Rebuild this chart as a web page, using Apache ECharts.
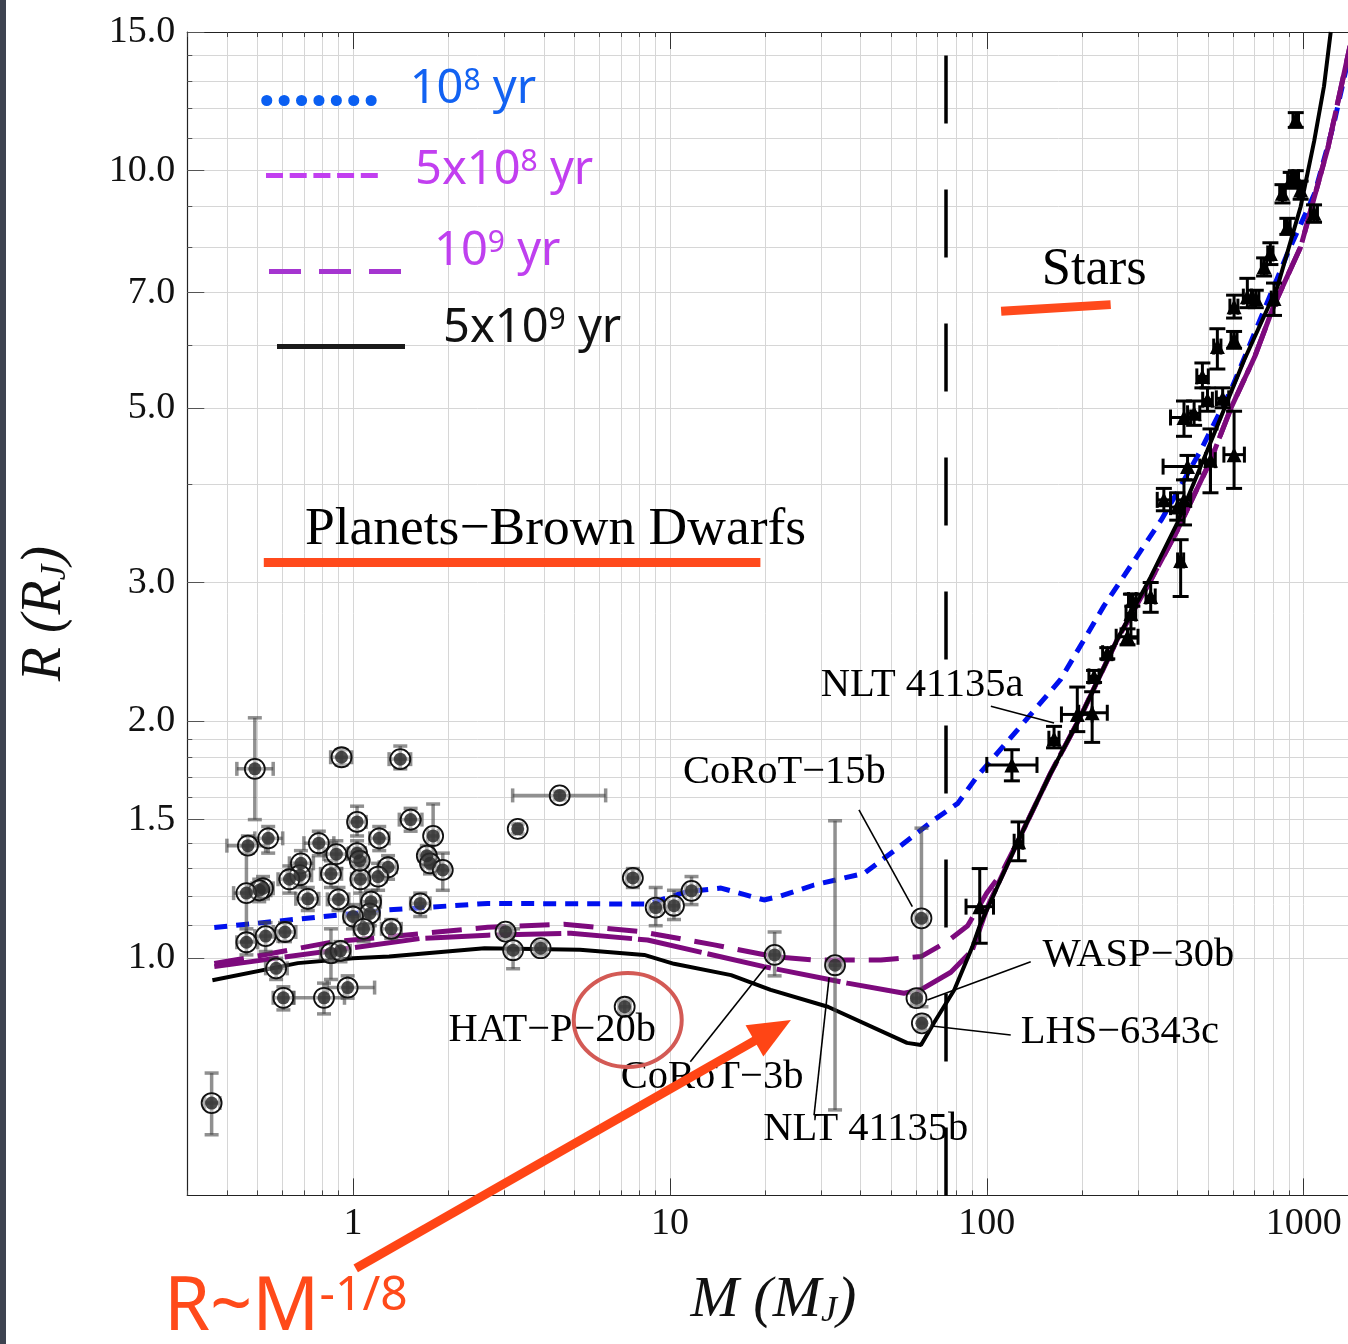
<!DOCTYPE html>
<html>
<head>
<meta charset="utf-8">
<script src="https://cdn.jsdelivr.net/npm/echarts@6/dist/echarts.min.js"></script>
<style>
html,body{margin:0;padding:0;background:#fff;}
#chart{width:1348px;height:1344px;}
</style>
</head>
<body>
<div id="chart"></div>
<script>
// ---------------- data ----------------
const X_MIN = 0.3, X_MAX = 1500, Y_MIN = 0.5, Y_MAX = 15;
const xMajorTicks = [1, 10, 100, 1000];
const xMinorTicks = [0.3,0.4,0.5,0.6,0.7,0.8,0.9,1,2,3,4,5,6,7,8,9,10,20,30,40,50,60,70,80,90,100,200,300,400,500,600,700,800,900,1000];
const yMajorTicks = [1.0, 1.5, 2.0, 3.0, 5.0, 7.0, 10.0, 15.0];
const yMinorTicks = [1.0,1.1,1.2,1.3,1.4,1.5,1.6,1.7,1.8,1.9,2.0,3,4,5,6,7,8,9,10,11,12,13,14,15];

// isochrones [M (MJ), R (RJ)]
const iso1e8 = [[0.365,1.094],[0.79,1.129],[1.29,1.152],[2.66,1.174],[8.5,1.172],[11.3,1.215],[14.5,1.228],[19.8,1.186],[22.4,1.2],[28.5,1.239],[41,1.282],[52.3,1.38],[68,1.498],[81,1.573],[93,1.70],[125,1.95],[171,2.26],[234,2.80],[355,3.60],[408,3.97],[474,4.42],[590,5.27],[889,7.85],[1083,9.36],[1247,11.5],[1380,13.8]];
const iso5e8 = [[0.365,0.985],[0.489,1.005],[0.874,1.05],[1.29,1.065],[2.66,1.095],[4.63,1.105],[8.1,1.081],[13.8,1.04],[21.3,1.005],[28.5,0.995],[46.3,0.995],[62,1.005],[75,1.05],[87,1.10],[100,1.21],[111,1.28],[126,1.414],[159,1.718],[198,2.03],[258,2.54],[329,3.02],[400,3.5],[509,4.29],[590,5.0],[700,5.8],[803,6.72],[978,8.0],[1193,10.7],[1400,14.4]];
const iso1e9 = [[0.365,0.976],[0.895,1.025],[1.64,1.06],[2.66,1.07],[4.87,1.076],[8.5,1.055],[19.8,0.976],[36.3,0.93],[54.8,0.903],[61.8,0.912],[77,0.96],[90,1.024],[100.6,1.163],[126,1.414],[159,1.718],[198,2.03],[258,2.54],[329,3.02],[400,3.5],[509,4.29],[590,5.0],[700,5.8],[803,6.72],[978,8.0],[1193,10.7],[1400,14.4]];
const iso5e9 = [[0.36,0.938],[0.67,0.986],[1.0,1.0],[1.3,1.005],[2.6,1.03],[5.2,1.025],[8.3,1.01],[10.3,0.984],[15.6,0.952],[20.8,0.912],[31.5,0.868],[56,0.781],[62,0.776],[68,0.827],[79,0.912],[90,1.034],[95,1.10],[126,1.414],[159,1.718],[198,2.03],[258,2.54],[329,3.05],[399,3.57],[497,4.42],[649,5.75],[826,7.12],[978,9.0],[1079,10.9],[1159,12.8],[1217,15]];

// planets / brown dwarfs: [M, R, Mlow, Mhigh, Rlow, Rhigh]
const planets = [
 [0.49,1.74,0.43,0.56,1.50,2.02],[0.92,1.80,0.85,0.99,1.76,1.84],[1.41,1.79,1.30,1.52,1.74,1.86],
 [0.466,1.39,0.40,0.53,1.36,1.43],[0.54,1.42,0.49,0.60,1.36,1.47],[0.78,1.40,0.70,0.87,1.35,1.45],
 [0.685,1.32,0.63,0.75,1.27,1.37],[0.886,1.356,0.81,0.96,1.30,1.41],[1.03,1.49,0.97,1.10,1.43,1.56],
 [1.21,1.42,1.13,1.30,1.37,1.47],[1.52,1.50,1.40,1.65,1.45,1.55],[1.79,1.43,1.72,1.86,1.30,1.57],
 [1.71,1.35,1.62,1.80,1.31,1.39],[1.75,1.32,1.66,1.84,1.28,1.36],[1.92,1.295,1.82,2.02,1.22,1.36],
 [1.29,1.305,1.21,1.37,1.26,1.35],[1.20,1.27,1.13,1.27,1.22,1.32],[1.055,1.26,0.99,1.12,1.21,1.31],
 [1.03,1.36,0.97,1.09,1.31,1.41],[1.05,1.33,0.99,1.11,1.28,1.38],[0.852,1.28,0.79,0.92,1.23,1.33],
 [0.68,1.275,0.62,0.74,1.23,1.32],[0.63,1.26,0.58,0.69,1.21,1.31],[0.52,1.227,0.48,0.56,1.19,1.27],
 [0.506,1.22,0.47,0.55,1.18,1.26],[0.461,1.21,0.42,0.50,1.05,1.39],[0.72,1.19,0.66,0.78,1.15,1.23],
 [0.90,1.188,0.83,0.97,1.15,1.23],[1.14,1.18,1.06,1.22,1.14,1.22],[1.63,1.174,1.52,1.75,1.13,1.21],
 [1.13,1.14,1.05,1.21,1.10,1.18],[1.0,1.13,0.94,1.07,1.09,1.17],[1.08,1.09,1.01,1.16,1.05,1.13],
 [1.32,1.09,1.23,1.42,1.06,1.12],[0.61,1.08,0.56,0.66,1.05,1.11],[0.53,1.067,0.49,0.58,1.02,1.11],
 [0.461,1.048,0.43,0.50,1.01,1.09],[0.852,1.015,0.79,0.92,0.94,1.09],[0.913,1.022,0.85,0.98,0.99,1.05],
 [0.572,0.971,0.53,0.62,0.94,1.00],[0.603,0.891,0.56,0.65,0.86,0.92],[0.81,0.891,0.65,0.94,0.85,0.93],
 [0.962,0.918,0.83,1.17,0.89,0.95],[0.358,0.655,0.34,0.38,0.597,0.715],[3.31,1.46,3.23,3.39,1.44,1.48],
 [4.49,1.61,3.19,6.27,1.59,1.63],[7.64,1.265,7.3,8.0,1.23,1.30],[9.02,1.16,8.6,9.4,1.10,1.23],
 [10.3,1.166,9.9,10.7,1.12,1.22],[11.7,1.218,11.2,12.2,1.17,1.27],[7.2,0.868,6.9,7.5,0.85,0.885],
 [3.03,1.081,2.9,3.16,1.06,1.10],[3.2,1.024,3.05,3.35,0.97,1.09],[3.91,1.03,3.75,4.07,1.01,1.05],
 [21.4,1.01,20.5,22.3,0.95,1.08],[33.2,0.98,31.5,35.0,0.642,1.495],[62.2,1.124,59.5,65.0,0.868,1.463],
 [60.0,0.89,58.0,62.0,0.87,0.91],[62.4,0.827,61.0,64.0,0.81,0.845]
];

// low-mass stars: [M, R, Mlow, Mhigh, Rlow, Rhigh]
const stars = [
 [95,1.163,86,105,1.045,1.30],[126,1.406,122,130,1.33,1.49],[120,1.76,100,144,1.68,1.84],
 [163,1.90,157,169,1.85,1.97],[193,2.04,172,215,1.94,2.21],[215,2.05,195,240,1.88,2.18],
 [218,2.28,210,226,2.24,2.32],[240,2.44,232,248,2.40,2.48],[278,2.56,256,300,2.50,2.62],
 [285,2.74,275,295,2.55,2.9],[288,2.85,280,296,2.80,2.90],[329,2.88,318,340,2.75,3.0],
 [409,3.20,400,418,2.88,3.40],[419,3.82,400,440,3.55,4.05],[362,3.82,345,380,3.70,3.95],
 [399,3.74,380,420,3.60,3.90],[430,4.21,360,470,4.05,4.35],[508,4.29,490,526,3.9,4.7],
 [603,4.36,560,650,3.95,4.95],[451,4.92,430,470,4.75,5.1],[419,4.86,380,440,4.6,5.1],
 [497,5.12,480,515,4.95,5.3],[555,5.14,530,580,5.0,5.3],[479,5.48,460,500,5.3,5.7],
 [534,5.98,520,548,5.6,6.3],[603,6.72,585,620,6.5,6.95],[603,6.10,590,616,5.95,6.25],
 [664,6.92,645,684,6.7,7.3],[706,6.88,690,722,6.7,7.05],[806,6.88,790,822,6.55,7.2],
 [785,7.85,770,800,7.6,8.1],[750,7.55,735,765,7.35,7.75],[888,8.49,870,906,8.3,8.7],
 [857,9.36,840,875,9.1,9.6],[910,9.73,890,930,9.5,9.95],[944,9.81,925,963,9.6,10.0],
 [978,9.45,960,996,9.2,9.7],[1078,8.83,1050,1105,8.6,9.05],[944,11.6,925,963,11.35,11.85]
];

const hbmlMass = 73.3;

// annotations (data coordinates)
const labelTexts = ['NLT 41135a','CoRoT\u221215b','WASP\u221230b','LHS\u22126343c','HAT\u2212P\u221220b','CoRoT\u22123b','NLT 41135b'];
const labelAnchors = [[29.9,2.22],[11.0,1.72],[150,1.01],[128,0.806],[2.0,0.811],[7.0,0.707],[19.7,0.607]];
const leaderLines = [[103,2.09,163,1.99],[39.5,1.543,58.2,1.163],[137.6,0.99,64.9,0.885],[119,0.799,68.1,0.82],[11.6,0.739,20.1,0.976],[28.5,0.632,31.8,0.946]];
const regionTexts = ['Planets\u2212Brown Dwarfs','Stars'];
const regionAnchors = [[0.705,3.50],[149,7.48]];
const regionBars = [[0.523,3.18,19.3,3.18],[111,6.63,246,6.76]];
const highlightCenter = [[7.36,0.835]];
const trendArrow = [[1.02,0.404,24.1,0.835]];

// ---------------- chart ----------------
const lg = Math.log10;
const toXY = arr => arr.map(p => [lg(p[0]), lg(p[1])]);
const toLog = arr => arr.map(p => p.map(lg));

function errRender(color, lw, cap) {
  return function (params, api) {
    const x = api.value(0), y = api.value(1);
    const c = api.coord([x, y]);
    const xl = api.coord([api.value(2), y]), xh = api.coord([api.value(3), y]);
    const yl = api.coord([x, api.value(4)]), yh = api.coord([x, api.value(5)]);
    const L = (x1, y1, x2, y2) => ({type: 'line', shape: {x1, y1, x2, y2}, style: {stroke: color, lineWidth: lw, fill: null}});
    return {type: 'group', children: [
      L(xl[0], c[1], xh[0], c[1]), L(xl[0], c[1] - cap, xl[0], c[1] + cap), L(xh[0], c[1] - cap, xh[0], c[1] + cap),
      L(c[0], yl[1], c[0], yh[1]), L(c[0] - cap, yl[1], c[0] + cap, yl[1]), L(c[0] - cap, yh[1], c[0] + cap, yh[1])
    ]};
  };
}

const serif = 'Liberation Serif';
const axisBase = (min, max, pos) => ({
  type: 'value', min, max, position: pos,
  axisLine: {show: false, onZero: false},
  axisTick: {show: false}, axisLabel: {show: false}, splitLine: {show: false}
});
const frameLine = {show: true, onZero: false, lineStyle: {color: '#222', width: 1.2}};
const xr = [lg(X_MIN), lg(X_MAX)], yr = [lg(Y_MIN), lg(Y_MAX)];

const legendSpecs = [
  {name: '1e8', left: 261.2, top: 66, w: 105, line: {color: '#0a5ff2', width: 11, type: [0.1, 17.3], cap: 'round'}, color: '#1262f2', gap: 33, pad: 22, base: '10', sup: '8'},
  {name: '5e8', left: 263.5, top: 147, w: 113, line: {color: '#c23ff0', width: 5, type: [17, 6.7], cap: 'butt'}, color: '#c23ff0', gap: 31, pad: 10, base: '5x10', sup: '8'},
  {name: '1e9', left: 266.5, top: 228, w: 134, line: {color: '#a535d0', width: 5, type: [32, 18], cap: 'butt'}, color: '#bf40ef', gap: 26, pad: 40, base: '10', sup: '9'},
  {name: '5e9', left: 274.5, top: 305, w: 128, line: {color: '#1a1a1a', width: 5, type: 'solid', cap: 'butt'}, color: '#111', gap: 33, pad: 36, base: '5x10', sup: '9'}
];
const legends = legendSpecs.map(s => ({
  show: true, left: s.left, top: s.top, padding: 0, orient: 'horizontal',
  itemWidth: s.w, itemHeight: 12, selectedMode: false,
  data: [{name: s.name, lineStyle: s.line, itemStyle: {opacity: 0}}],
  formatter: () => '{g| }{n|' + s.base + '}{s|' + s.sup + '}{n| yr}',
  textStyle: {
    color: s.color, padding: [0, 0, s.pad, 0],
    rich: {
      g: {width: s.gap},
      n: {fontSize: 47, fontFamily: 'Noto Sans', color: s.color},
      s: {fontSize: 30, fontFamily: 'Noto Sans', color: s.color, verticalAlign: 'top'}
    }
  }
}));

const option = {
  animation: false,
  backgroundColor: '#fff',
  grid: {left: 187.3, right: -11.5, top: 32, bottom: 148.6, containLabel: false, outerBoundsMode: 'none'},
  legend: legends,
  xAxis: [
    Object.assign(axisBase(xr[0], xr[1], 'bottom'), {
      axisLine: frameLine,
      axisTick: {show: true, inside: true, length: 17, customValues: xMajorTicks.map(lg), lineStyle: {color: '#333', width: 1}},
      axisLabel: {show: true, customValues: xMajorTicks.map(lg), formatter: v => String(Math.round(Math.pow(10, v))),
        fontFamily: serif, fontSize: 38, color: '#111', margin: 10},
      name: '{i|M} {i|(}{i|M}{j|J}{i|)}', nameLocation: 'middle', nameGap: 76,
      nameTextStyle: {fontFamily: serif, fontStyle: 'italic', fontSize: 58, color: '#111',
        rich: {i: {fontFamily: serif, fontStyle: 'italic', fontSize: 58, color: '#111'},
               j: {fontFamily: serif, fontStyle: 'italic', fontSize: 36, color: '#111', lineHeight: 30, verticalAlign: 'bottom'}}}
    }),
    Object.assign(axisBase(xr[0], xr[1], 'bottom'), {
      axisTick: {show: true, inside: true, length: 5, customValues: xMinorTicks.map(lg), lineStyle: {color: '#444', width: 1}},
      splitLine: {show: true, lineStyle: {color: '#d6d6d6', width: 1}}
    }),
    Object.assign(axisBase(xr[0], xr[1], 'top'), {
      axisLine: frameLine,
      axisTick: {show: true, inside: true, length: 5, customValues: xMinorTicks.map(lg), lineStyle: {color: '#444', width: 1}}
    }),
    Object.assign(axisBase(xr[0], xr[1], 'top'), {
      axisTick: {show: true, inside: true, length: 17, customValues: xMajorTicks.map(lg), lineStyle: {color: '#333', width: 1}}
    })
  ],
  yAxis: [
    Object.assign(axisBase(yr[0], yr[1], 'left'), {
      axisLine: frameLine,
      axisTick: {show: true, inside: true, length: 17, customValues: yMajorTicks.map(lg), lineStyle: {color: '#555', width: 1}},
      axisLabel: {show: true, customValues: yMajorTicks.map(lg), formatter: v => Math.pow(10, v).toFixed(1),
        fontFamily: serif, fontSize: 38, color: '#111', margin: 12},
      name: '{i|R} {i|(}{i|R}{j|J}{i|)}', nameLocation: 'middle', nameGap: 114,
      nameTextStyle: {fontFamily: serif, fontStyle: 'italic', fontSize: 56, color: '#111',
        rich: {i: {fontFamily: serif, fontStyle: 'italic', fontSize: 56, color: '#111'},
               j: {fontFamily: serif, fontStyle: 'italic', fontSize: 35, color: '#111', lineHeight: 29, verticalAlign: 'bottom'}}}
    }),
    Object.assign(axisBase(yr[0], yr[1], 'left'), {
      axisTick: {show: true, inside: true, length: 5, customValues: yMinorTicks.map(lg), lineStyle: {color: '#555', width: 1}},
      splitLine: {show: true, lineStyle: {color: '#d6d6d6', width: 1}}
    })
  ],
  graphic: [
    {type: 'rect', left: 0, top: 0, shape: {width: 6, height: 1344}, style: {fill: '#3d4350'}, silent: true},
    {type: 'text', left: 164, top: 1272, silent: true,
     style: {text: '{a|R~M}{s|-1/8}', rich: {
       a: {fontSize: 74, fontFamily: 'Noto Sans', fill: '#ff4a1a'},
       s: {fontSize: 48, fontFamily: 'Noto Sans', fill: '#ff4a1a', verticalAlign: 'top'}}}}
  ],
  series: [
    {name: '1e8', type: 'line', data: toXY(iso1e8), symbol: 'none', silent: true, z: 3,
     lineStyle: {color: '#0010ee', width: 5, type: [13, 9]}},
    {name: '5e8', type: 'line', data: toXY(iso5e8), symbol: 'none', silent: true, z: 3,
     lineStyle: {color: '#7d0a7d', width: 5, type: [30, 14]}},
    {name: '1e9', type: 'line', data: toXY(iso1e9), symbol: 'none', silent: true, z: 3,
     lineStyle: {color: '#7d0a7d', width: 5, type: [65, 6]}},
    {name: '5e9', type: 'line', data: toXY(iso5e9), symbol: 'none', silent: true, z: 3,
     lineStyle: {color: '#000', width: 4, type: 'solid'},
     markLine: {silent: true, symbol: ['none', 'none'], label: {show: false},
       lineStyle: {color: '#000', width: 3.5, type: [68, 66]},
       emphasis: {disabled: true},
       data: [{xAxis: lg(hbmlMass)}]}},
    {name: 'planetErr', type: 'custom', data: toLog(planets), silent: true, z: 4,
     renderItem: errRender('rgba(70,70,70,0.6)', 3.5, 7)},
    {name: 'planetRing', type: 'scatter', data: toXY(planets), symbol: 'circle', symbolSize: 20, silent: true, z: 5,
     itemStyle: {color: 'rgba(255,255,255,0.35)', borderColor: '#111', borderWidth: 1.8, opacity: 1}},
    {name: 'planetCore', type: 'scatter', data: toXY(planets), symbol: 'circle', symbolSize: 13, silent: true, z: 6,
     itemStyle: {color: 'rgba(45,45,45,0.85)', opacity: 1}},
    {name: 'starErr', type: 'custom', data: toLog(stars), silent: true, z: 4,
     renderItem: errRender('#000', 3, 8)},
    {name: 'stars', type: 'scatter', data: toXY(stars), symbol: 'triangle', symbolSize: 15, silent: true, z: 6,
     itemStyle: {color: '#000', opacity: 1}},
    {name: 'labels', type: 'custom', data: toXY(labelAnchors), silent: true, z: 7,
     renderItem: (params, api) => {
       const p = api.coord([api.value(0), api.value(1)]);
       return {type: 'text', x: p[0], y: p[1], style: {text: labelTexts[params.dataIndex], fontSize: 40.5, fontFamily: serif,
         fill: '#000', align: 'left', verticalAlign: 'middle'}};
     }},
    {name: 'leaders', type: 'custom', data: toLog(leaderLines), silent: true, z: 7,
     renderItem: (params, api) => {
       const a = api.coord([api.value(0), api.value(1)]), b = api.coord([api.value(2), api.value(3)]);
       return {type: 'line', shape: {x1: a[0], y1: a[1], x2: b[0], y2: b[1]}, style: {stroke: '#000', lineWidth: 1.6}};
     }},
    {name: 'regions', type: 'custom', data: toXY(regionAnchors), silent: true, z: 7,
     renderItem: (params, api) => {
       const i = params.dataIndex;
       const p = api.coord([api.value(0), api.value(1)]);
       const bar = regionBars[i];
       const a = api.coord([lg(bar[0]), lg(bar[1])]), b = api.coord([lg(bar[2]), lg(bar[3])]);
       return {type: 'group', children: [
         {type: 'line', shape: {x1: a[0], y1: a[1], x2: b[0], y2: b[1]}, style: {stroke: '#ff4a1c', lineWidth: 9}},
         {type: 'text', x: p[0], y: p[1], style: {text: regionTexts[i], fontSize: i === 0 ? 53.5 : 52.5, fontFamily: serif,
           fill: '#000', align: 'left', verticalAlign: 'middle'}}
       ]};
     }},
    {name: 'highlight', type: 'custom', data: toXY(highlightCenter), silent: true, z: 8,
     renderItem: (params, api) => {
       const p = api.coord([api.value(0), api.value(1)]);
       return {type: 'ellipse', shape: {cx: p[0], cy: p[1], rx: 54, ry: 47}, style: {fill: 'none', stroke: '#d35a55', lineWidth: 4}};
     }},
    {name: 'trend', type: 'custom', data: toLog(trendArrow), silent: true, z: 8,
     renderItem: (params, api) => {
       const a = api.coord([api.value(0), api.value(1)]), b = api.coord([api.value(2), api.value(3)]);
       const dx = b[0] - a[0], dy = b[1] - a[1], len = Math.sqrt(dx * dx + dy * dy);
       const ux = dx / len, uy = dy / len, px = -uy, py = ux;
       const headL = 42, headW = 36;
       const bx = b[0] - ux * headL, by = b[1] - uy * headL;
       return {type: 'group', children: [
         {type: 'line', shape: {x1: a[0], y1: a[1], x2: bx + ux * 4, y2: by + uy * 4}, style: {stroke: '#ff4515', lineWidth: 9}},
         {type: 'polygon', shape: {points: [[b[0], b[1]], [bx + px * headW / 2, by + py * headW / 2], [bx - px * headW / 2, by - py * headW / 2]]},
          style: {fill: '#ff4515'}}
       ]};
     }}
  ]
};

const chart = echarts.init(document.getElementById('chart'), null, {renderer: 'canvas'});
chart.setOption(option);
</script>
</body>
</html>
